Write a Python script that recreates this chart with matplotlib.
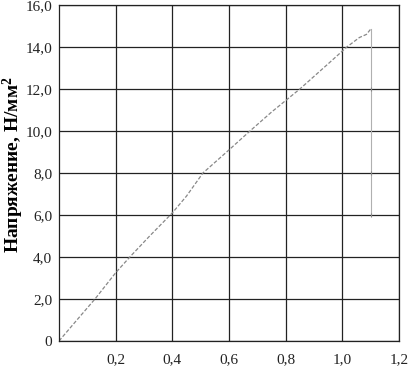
import matplotlib
matplotlib.use("Agg")
import matplotlib.pyplot as plt
from matplotlib.ticker import FixedLocator

# Data
strain = [0.0, 0.06, 0.127, 0.2, 0.25, 0.32, 0.4, 0.45, 0.508, 0.6, 0.674, 0.75, 0.85, 0.95, 1.016, 1.06, 1.085, 1.10]
stress = [0.0, 0.95, 2.0, 3.25, 4.0, 5.0, 6.1, 6.9, 8.0, 9.1, 10.0, 10.9, 12.0, 13.2, 14.0, 14.45, 14.6, 14.85]
drop_x = [1.10, 1.10]
drop_y = [14.85, 6.0]
drop_marks = [12.0, 8.0, 6.0]

xticks = [0.2, 0.4, 0.6, 0.8, 1.0, 1.2]
xlabels = ["0,2", "0,4", "0,6", "0,8", "1,0", "1,2"]
yticks = [0, 2, 4, 6, 8, 10, 12, 14, 16]
ylabels = ["0", "2,0", "4,0", "6,0", "8,0", "10,0", "12,0", "14,0", "16,0"]

plt.rcParams['font.family'] = ['Liberation Serif', 'DejaVu Serif']
plt.rcParams['mathtext.fontset'] = 'custom'
plt.rcParams['mathtext.rm'] = 'Liberation Serif'
plt.rcParams['mathtext.bf'] = 'Liberation Serif:bold'

fig = plt.figure(figsize=(4.09, 3.68), dpi=100)
ax = fig.add_axes([59/409, 27/368, 340/409, 336/368])

ax.plot(strain, stress, color='#888888', lw=0.9, ls=(0, (3, 1.5)))
ax.plot(drop_x, drop_y, color='#b0b0b0', lw=0.8)
ax.plot([drop_x[0]] * len(drop_marks), drop_marks, ls='none', marker='|', ms=3, color='#888888', mew=0.8)

ax.set_xlim(0, 1.2)
ax.set_ylim(0, 16)
ax.xaxis.set_major_locator(FixedLocator(xticks))
ax.set_xticklabels(xlabels)
ax.set_yticks(yticks)
ax.set_yticklabels(ylabels)
ax.tick_params(axis='both', length=0, labelsize=11, colors='#222222')
ax.tick_params(axis='x', pad=9)
ax.tick_params(axis='y', pad=5)
ax.grid(True, color='#222222', lw=0.9)
for s in ax.spines.values():
    s.set_color('#222222')
    s.set_linewidth(0.9)

ax.set_ylabel("Напряжение, Н/мм$\\mathbf{^2}$", fontsize=14, fontweight='bold', va='center')
ax.yaxis.set_label_coords(-0.135, 0.525)

fig.savefig("out.png", dpi=100)
